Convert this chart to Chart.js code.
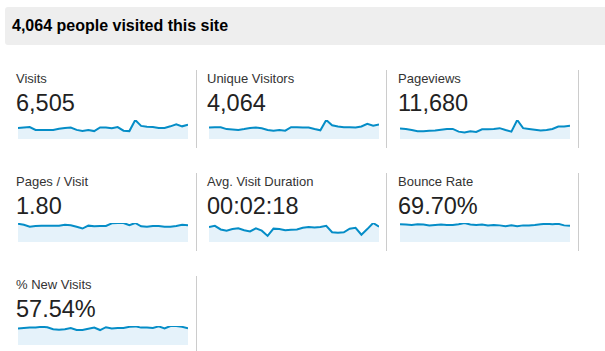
<!DOCTYPE html>
<html>
<head>
<meta charset="utf-8">
<script src="https://cdn.jsdelivr.net/npm/chart.js@4.4.0/dist/chart.umd.min.js"></script>
<style>
  body { margin: 0; background: #fff; font-family: Arial, "Liberation Sans", sans-serif; }
  #page { position: relative; width: 605px; height: 351px; overflow: hidden; }
  .header { position: absolute; left: 5px; top: 7px; width: 610px; height: 38px; background: #eeeeee; border-radius: 3px; }
  .header span { position: absolute; left: 7px; top: 10.5px; font-size: 16px; font-weight: bold; line-height: 16px; color: #000; }
  .label { position: absolute; font-size: 13px; line-height: 13px; color: #333; white-space: nowrap; }
  .value { position: absolute; font-size: 23.5px; line-height: 23.5px; color: #222; white-space: nowrap; }
  .sep { position: absolute; width: 1px; height: 78px; background: #cccccc; }
  canvas { position: absolute; }
</style>
</head>
<body>
<div id="page">
  <div class="header"><span>4,064 people visited this site</span></div>
</div>
<script>
// 30 days of data
const days = Array.from({ length: 30 }, (_, i) => 'Day ' + (i + 1));

const visits = [217,225,233,178,178,178,178,202,217,225,178,155,178,155,225,225,209,233,163,155,372,256,240,233,217,217,248,287,248,279];
const uniqueVisitors = [136,140,140,118,113,108,118,131,136,127,108,99,108,99,140,140,136,136,118,104,226,163,149,140,140,136,149,181,158,172];
const pageviews = [420,404,358,311,311,327,342,373,404,404,295,264,311,280,389,389,404,435,358,295,762,435,404,373,342,358,404,498,498,529];
const pagesPerVisit = [2.01,1.89,1.68,1.76,1.80,1.80,1.80,1.80,1.89,1.85,1.68,1.48,1.80,1.72,1.76,1.76,2.05,2.09,2.09,1.85,2.09,1.72,1.68,1.76,1.76,1.68,1.68,1.76,1.89,1.85];
const avgDuration = [165,178,138,125,142,151,129,116,151,125,67,147,142,129,134,138,156,165,160,165,178,107,102,107,147,156,80,142,209,169];
const bounceRate = [72.0,70.4,68.8,72.0,70.4,67.2,68.8,70.4,68.8,68.8,72.0,76.8,70.4,68.8,70.4,67.2,68.8,67.2,64.0,67.2,64.0,67.2,67.2,68.8,72.0,73.6,72.0,73.6,67.2,65.6];
const newVisits = [55.8,57.1,58.5,58.5,61.2,59.8,53.0,51.7,53.0,57.1,50.3,50.3,54.4,58.5,50.3,59.8,55.8,57.1,57.1,61.2,62.6,58.5,58.5,57.1,62.6,55.8,63.9,63.9,61.2,55.8];

const metricNames = ['Visits', 'Unique Visitors', 'Pageviews', 'Pages / Visit', 'Avg. Visit Duration', 'Bounce Rate', '% New Visits'];
const metricTotals = ['6,505', '4,064', '11,680', '1.80', '00:02:18', '69.70%', '57.54%'];
const metricSeries = [visits, uniqueVisitors, pageviews, pagesPerVisit, avgDuration, bounceRate, newVisits];

const page = document.getElementById('page');
const colX = [16, 207, 398];
const sepX = [196, 386, 578];

function addEl(cls, text, left, top) {
  const el = document.createElement('div');
  el.className = cls;
  if (text) el.textContent = text;
  el.style.left = left + 'px';
  el.style.top = top + 'px';
  page.appendChild(el);
  return el;
}

metricNames.forEach((name, i) => {
  const row = Math.floor(i / 3);
  const col = i % 3;
  const x = colX[col];
  const y = row * 103;

  addEl('label', name, x, 72 + y);
  addEl('value', metricTotals[i], x, 92 + y);
  addEl('sep', '', sepX[col], 70 + y);

  const canvas = document.createElement('canvas');
  canvas.width = 170;
  canvas.height = 21;
  canvas.style.left = (x + 2) + 'px';
  canvas.style.top = (118 + y) + 'px';
  page.appendChild(canvas);

  const data = metricSeries[i];
  new Chart(canvas.getContext('2d'), {
    type: 'line',
    data: {
      labels: days,
      datasets: [{
        data: data,
        borderColor: '#058dc7',
        backgroundColor: '#e5f2fa',
        borderWidth: 2,
        pointRadius: 0,
        tension: 0,
        fill: 'origin'
      }]
    },
    options: {
      responsive: false,
      animation: false,
      devicePixelRatio: 1,
      layout: { padding: { top: 2, left: 0, right: 0, bottom: 0 } },
      plugins: { legend: { display: false }, tooltip: { enabled: false } },
      scales: {
        x: { display: false },
        y: { display: false, min: 0, max: Math.max(...data) }
      }
    }
  });
});
</script>
</body>
</html>
